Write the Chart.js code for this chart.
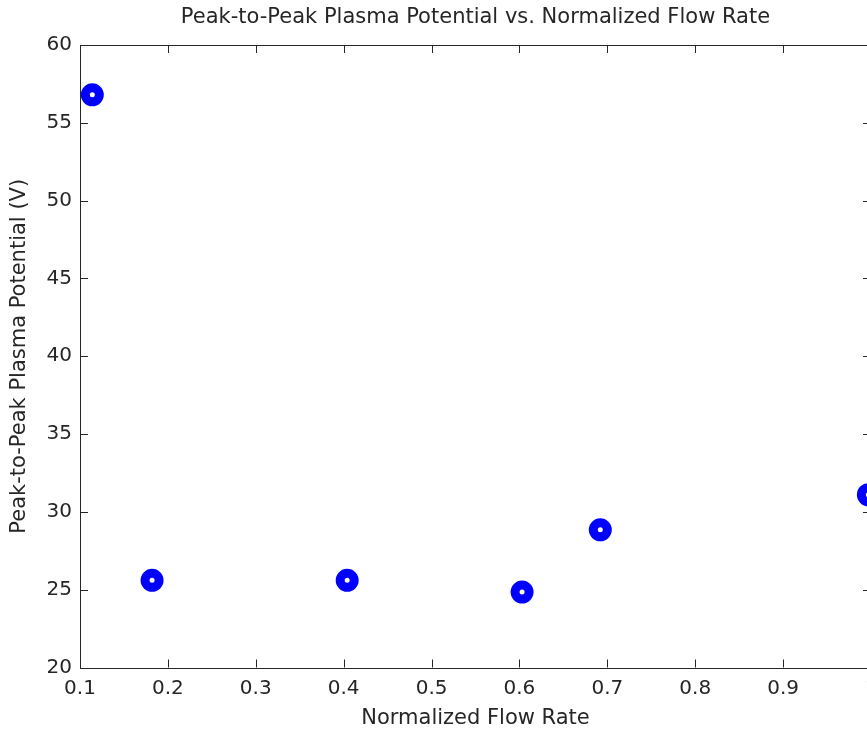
<!DOCTYPE html>
<html>
<head>
<meta charset="utf-8">
<script src="https://cdn.jsdelivr.net/npm/chart.js@4/dist/chart.umd.min.js"></script>
<style>
    html, body { margin: 0; padding: 0; background: #fff; overflow: hidden; }
    canvas { display: block; }
</style>
</head>
<body>
<canvas id="flowChart" width="880" height="732"></canvas>
<script>
// Measured peak-to-peak plasma potential at each normalized flow rate
const flowRates = [0.114, 0.182, 0.404, 0.603, 0.692, 0.997];
const peakPotentials = [56.8, 25.6, 25.6, 24.85, 28.85, 31.1];

// Axis ticks
const xTickValues = [0.1, 0.2, 0.3, 0.4, 0.5, 0.6, 0.7, 0.8, 0.9, 1];
const xTickLabels = ['0.1', '0.2', '0.3', '0.4', '0.5', '0.6', '0.7', '0.8', '0.9', '1'];
const yTickValues = [20, 25, 30, 35, 40, 45, 50, 55, 60];
const yTickLabels = ['20', '25', '30', '35', '40', '45', '50', '55', '60'];

const chartTitle = 'Peak-to-Peak Plasma Potential vs. Normalized Flow Rate';
const axisColor = '#262626';
const fontFamily = '"DejaVu Sans", Verdana, sans-serif';

// Draws the axes box with tick marks pointing inward on all four sides,
// and the title centred over the plot area
const boxAxesPlugin = {
    id: 'boxAxes',
    beforeDatasetsDraw(chart) {
        const { ctx, chartArea: a, scales: { x, y } } = chart;
        const tickLen = 8;
        ctx.save();
        ctx.strokeStyle = axisColor;
        ctx.lineWidth = 1;
        ctx.beginPath();
        ctx.rect(Math.round(a.left) + 0.5, Math.round(a.top) + 0.5,
                 Math.round(a.right - a.left), Math.round(a.bottom - a.top));
        xTickValues.forEach(v => {
            const px = Math.round(x.getPixelForValue(v)) + 0.5;
            ctx.moveTo(px, a.bottom);
            ctx.lineTo(px, a.bottom - tickLen);
            ctx.moveTo(px, a.top);
            ctx.lineTo(px, a.top + tickLen);
        });
        yTickValues.forEach(v => {
            const py = Math.round(y.getPixelForValue(v)) + 0.5;
            ctx.moveTo(a.left, py);
            ctx.lineTo(a.left + tickLen, py);
            ctx.moveTo(a.right, py);
            ctx.lineTo(a.right - tickLen, py);
        });
        ctx.stroke();

        ctx.fillStyle = axisColor;
        ctx.font = '21px ' + fontFamily;
        ctx.textAlign = 'center';
        ctx.textBaseline = 'middle';
        ctx.fillText(chartTitle, (a.left + a.right) / 2, 18);
        ctx.restore();
    }
};

const ctx = document.getElementById('flowChart').getContext('2d');

new Chart(ctx, {
    type: 'scatter',
    data: {
        datasets: [{
            label: 'Peak-to-Peak Plasma Potential',
            data: flowRates.map((fr, i) => ({ x: fr, y: peakPotentials[i] })),
            pointStyle: 'circle',
            pointRadius: 7,
            pointBorderWidth: 9,
            pointBackgroundColor: '#ffffff',
            pointBorderColor: '#0000ff',
            pointHoverRadius: 7,
            clip: false
        }]
    },
    options: {
        responsive: false,
        devicePixelRatio: 1,
        animation: false,
        layout: {
            autoPadding: false,
            padding: { left: 0, right: 9, top: 45, bottom: 0 }
        },
        scales: {
            x: {
                type: 'linear',
                min: 0.1,
                max: 1,
                afterFit: scale => {
                    scale.height = 64.5;
                    scale.paddingLeft = 0;
                    scale.paddingRight = 0;
                },
                afterBuildTicks: scale => {
                    scale.ticks = xTickValues.map(v => ({ value: v }));
                },
                grid: { display: false, drawTicks: false },
                border: { display: false },
                ticks: {
                    padding: 9,
                    color: axisColor,
                    font: { family: fontFamily, size: 20 },
                    maxRotation: 0,
                    autoSkip: false,
                    callback: (v, i) => xTickLabels[i]
                },
                title: {
                    display: true,
                    text: 'Normalized Flow Rate',
                    color: axisColor,
                    font: { family: fontFamily, size: 21 },
                    padding: { top: 0, bottom: 1 }
                }
            },
            y: {
                type: 'linear',
                min: 20,
                max: 60,
                afterFit: scale => {
                    scale.width = 80;
                    scale.paddingTop = 0;
                    scale.paddingBottom = 0;
                },
                afterBuildTicks: scale => {
                    scale.ticks = yTickValues.map(v => ({ value: v }));
                },
                grid: { display: false, drawTicks: false },
                border: { display: false },
                ticks: {
                    padding: 8,
                    color: axisColor,
                    font: { family: fontFamily, size: 20 },
                    autoSkip: false,
                    callback: (v, i) => yTickLabels[i]
                },
                title: {
                    display: true,
                    text: 'Peak-to-Peak Plasma Potential (V)',
                    color: axisColor,
                    font: { family: fontFamily, size: 21 },
                    padding: { top: 7, bottom: 0 }
                }
            }
        },
        plugins: {
            legend: { display: false },
            tooltip: { enabled: false },
            title: { display: false }
        }
    },
    plugins: [boxAxesPlugin]
});
</script>
</body>
</html>
